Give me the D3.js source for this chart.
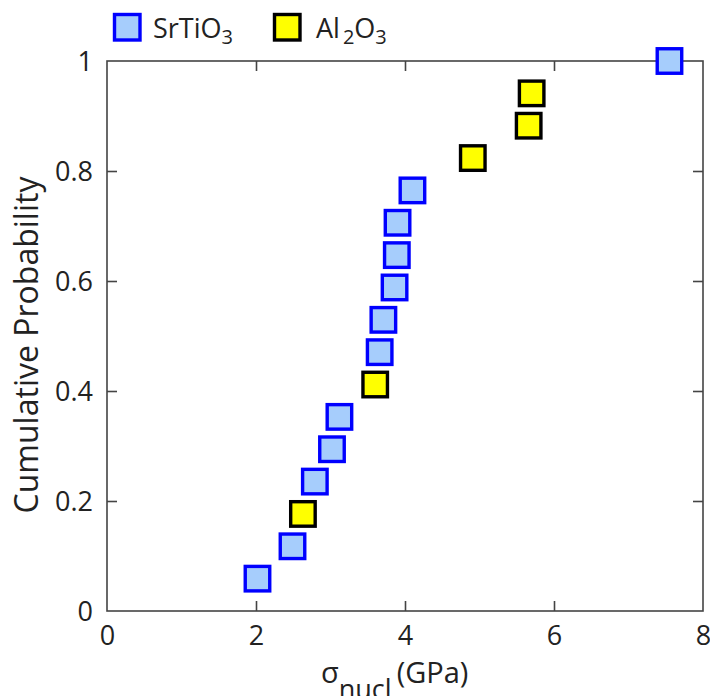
<!DOCTYPE html>
<html><head><meta charset="utf-8">
<script src="https://cdn.jsdelivr.net/npm/d3@7"></script>
<style>body{margin:0;background:#fff}svg{display:block}text{font-family:"Open Sans","Noto Sans",sans-serif;fill:#222}</style>
</head><body><svg id="c" width="710" height="696"></svg>
<script>
const xTicks = [0, 2, 4, 6, 8];
const yTicks = [0, 0.2, 0.4, 0.6, 0.8, 1];
const yTickLabels = ["0", "0.2", "0.4", "0.6", "0.8", "1"];
const srtioX = [2.02, 2.49, 2.79, 3.02, 3.12, 3.66, 3.71, 3.86, 3.89, 3.90, 4.10, 7.55];
const srtioY = [1/17, 2/17, 4/17, 5/17, 6/17, 8/17, 9/17, 10/17, 11/17, 12/17, 13/17, 17/17];
const al2o3X = [2.63, 3.60, 4.91, 5.66, 5.70];
const al2o3Y = [3/17, 7/17, 14/17, 15/17, 16/17];

(function () {
const svg = d3.select("#c");
const L = 107, R = 703, T = 61, B = 611;
const x = d3.scaleLinear().domain([0, 8]).range([L, R]);
const y = d3.scaleLinear().domain([0, 1]).range([B, T]);
const axisColor = "#444";

svg.append("rect").attr("x", L).attr("y", T).attr("width", R - L).attr("height", B - T)
  .attr("fill", "none").attr("stroke", axisColor).attr("stroke-width", 1.6);

const tl = 10;
const gBottom = svg.append("g").attr("transform", `translate(0,${B})`)
  .call(d3.axisBottom(x).tickValues(xTicks).tickSizeInner(-tl).tickSizeOuter(0).tickPadding(15));
const gTop = svg.append("g").attr("transform", `translate(0,${T})`)
  .call(d3.axisTop(x).tickValues(xTicks).tickSizeInner(-tl).tickSizeOuter(0).tickFormat(""));
const gLeft = svg.append("g").attr("transform", `translate(${L},0)`)
  .call(d3.axisLeft(y).tickValues(yTicks).tickSizeInner(-tl).tickSizeOuter(0).tickPadding(14)
    .tickFormat((d, i) => yTickLabels[i]));
const gRight = svg.append("g").attr("transform", `translate(${R},0)`)
  .call(d3.axisRight(y).tickValues(yTicks).tickSizeInner(-tl).tickSizeOuter(0).tickFormat(""));
[gBottom, gTop, gLeft, gRight].forEach(g => {
  g.select(".domain").remove();
  g.selectAll(".tick line").attr("stroke", axisColor).attr("stroke-width", 1.6);
  g.selectAll("text").style("font-size", "27px").attr("fill", "#222");
});
gLeft.selectAll("text").attr("dy", "0.36em");
[gBottom, gTop].forEach(g => g.selectAll(".tick").filter(d => d === 0 || d === 8).select("line").remove());
[gLeft, gRight].forEach(g => g.selectAll(".tick").filter(d => d === 0 || d === 1).select("line").remove());

const S = 24.5;
function squares(xs, ys, fill, stroke) {
  svg.append("g").selectAll("rect").data(xs.map((v, i) => [v, ys[i]])).join("rect")
    .attr("x", d => x(d[0]) - S / 2).attr("y", d => y(d[1]) - S / 2)
    .attr("width", S).attr("height", S)
    .attr("fill", fill).attr("stroke", stroke).attr("stroke-width", 3.4);
}
squares(srtioX, srtioY, "#a6cdfc", "#0000ff");
squares(al2o3X, al2o3Y, "#ffff00", "#000000");

svg.append("text").attr("transform", `translate(38,345) rotate(-90)`)
  .attr("text-anchor", "middle").style("font-size", "32px").text("Cumulative Probability");

const xl = svg.append("text").attr("x", 321).attr("y", 683).style("font-size", "29px");
xl.append("tspan").text("σ");
xl.append("tspan").attr("dy", 16).style("font-size", "27px").text("nucl");
xl.append("tspan").attr("dy", -16).attr("dx", 5).text("(GPa)");

const lg = svg.append("g");
lg.append("rect").attr("x", 114.5).attr("y", 14.5).attr("width", S + 1).attr("height", S + 1)
  .attr("fill", "#a6cdfc").attr("stroke", "#0000ff").attr("stroke-width", 3.4);
const t1 = lg.append("text").attr("x", 153).attr("y", 38).style("font-size", "27px");
t1.append("tspan").text("SrTiO");
t1.append("tspan").attr("dy", 6).style("font-size", "20px").text("3");
lg.append("rect").attr("x", 274.5).attr("y", 14.5).attr("width", S + 1).attr("height", S + 1)
  .attr("fill", "#ffff00").attr("stroke", "#000").attr("stroke-width", 3.4);
const t2 = lg.append("text").attr("x", 316).attr("y", 38).style("font-size", "27px");
t2.append("tspan").text("Al");
t2.append("tspan").attr("dy", 6).attr("dx", 3).style("font-size", "20px").text("2");
t2.append("tspan").attr("dy", -6).text("O");
t2.append("tspan").attr("dy", 6).style("font-size", "20px").text("3");
})();
</script></body></html>
